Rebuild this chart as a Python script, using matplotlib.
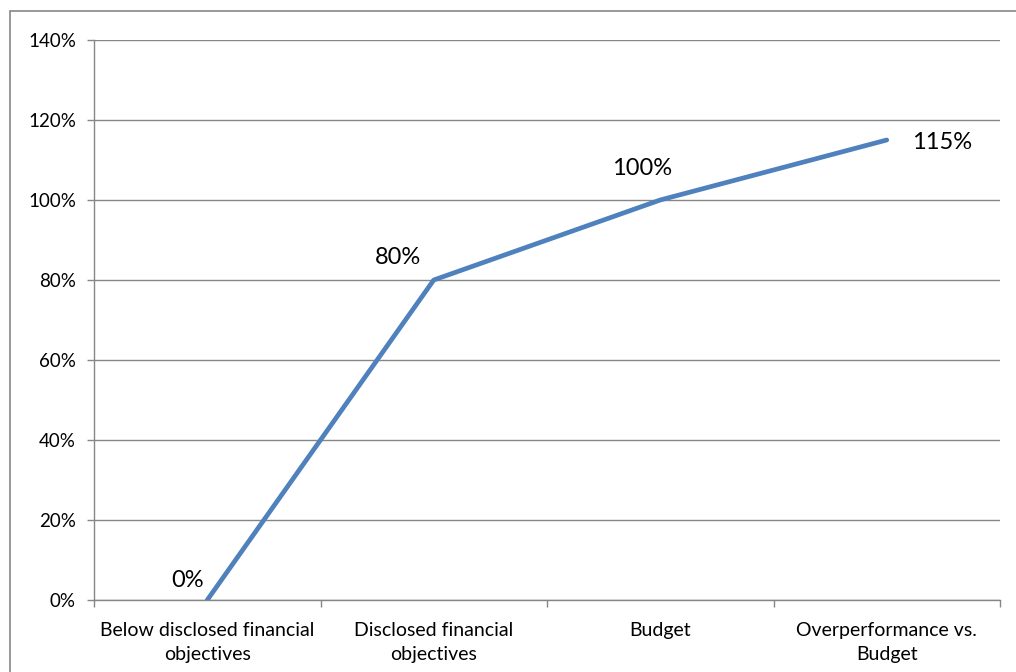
import matplotlib.pyplot as plt
from matplotlib.patches import Rectangle
from matplotlib.ticker import PercentFormatter

categories = ['Below disclosed financial\nobjectives', 'Disclosed financial\nobjectives',
              'Budget', 'Overperformance vs.\nBudget']
payout = [0, 80, 100, 115]
labels = ['0%', '80%', '100%', '115%']
# label offsets in points
offsets = [(-14, 14), (-26, 16), (-13, 23), (40, -2)]

plt.rcParams['font.family'] = ['Lato', 'DejaVu Sans']

fig = plt.figure(figsize=(10.16, 6.72), dpi=100)
ax = fig.add_axes([94 / 1016, 1 - 600 / 672, 906 / 1016, 560 / 672])

# chart border
fig.patches.append(Rectangle((10 / 1016, -0.01), 1.2, 1 - 11 / 672 + 0.01, transform=fig.transFigure,
                             fill=False, edgecolor='#868686', linewidth=1.2))

x = list(range(len(categories)))
ax.plot(x, payout, color='#4F81BD', linewidth=3.4, solid_capstyle='round', zorder=3)

for xi, yi, lab, off in zip(x, payout, labels, offsets):
    ax.annotate(lab, (xi, yi), xytext=off, textcoords='offset points',
                ha='center', va='center', fontsize=17, color='black')

ax.set_xlim(-0.5, 3.5)
ax.set_ylim(0, 140)
ax.set_yticks(range(0, 141, 20))
ax.yaxis.set_major_formatter(PercentFormatter(decimals=0))
ax.set_xticks(x)
ax.set_xticklabels(categories, linespacing=1.5)
ax.set_xticks([-0.5, 0.5, 1.5, 2.5, 3.5], minor=True)
ax.tick_params(axis='x', which='major', length=0, pad=16, labelsize=14)
ax.tick_params(axis='x', which='minor', length=5, color='#868686', width=1)
ax.tick_params(axis='y', length=5, color='#868686', width=1, pad=8, labelsize=13.5)

ax.grid(axis='y', color='#868686', linewidth=1)
ax.set_axisbelow(True)
for s in ['top', 'right']:
    ax.spines[s].set_visible(False)
for s in ['left', 'bottom']:
    ax.spines[s].set_color('#868686')
    ax.spines[s].set_linewidth(1)

fig.savefig('out.png', dpi=100)
